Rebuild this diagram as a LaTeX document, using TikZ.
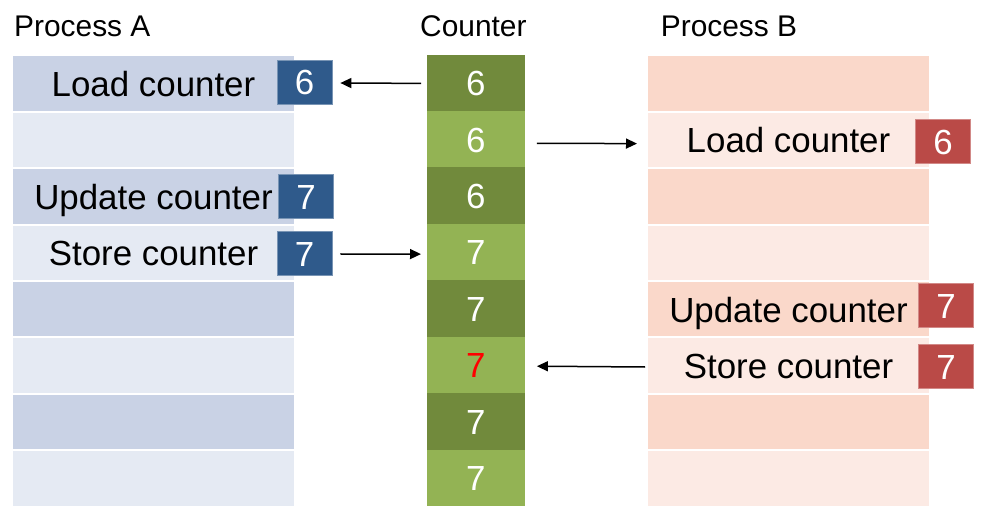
\documentclass[tikz,border=0pt]{standalone}
\usepackage{fontspec}
\setmainfont{Liberation Sans}
\usetikzlibrary{arrows.meta}
\definecolor{aDark}{HTML}{C9D2E5}
\definecolor{aLight}{HTML}{E5EAF3}
\definecolor{aBadge}{HTML}{2F5A8B}
\definecolor{bDark}{HTML}{FAD8CA}
\definecolor{bLight}{HTML}{FCEAE4}
\definecolor{bBadge}{HTML}{BA4A47}
\definecolor{cDark}{HTML}{718A3C}
\definecolor{cLight}{HTML}{93B354}
\begin{document}
\begin{tikzpicture}[x=1bp,y=-1bp,
  bigfont/.style={font=\fontsize{35}{40}\selectfont},
  titlefont/.style={font=\fontsize{30}{36}\selectfont, inner sep=0, anchor=base west},
  rowbox/.style={draw=white, line width=2bp, minimum width=283bp, minimum height=56.4bp,
    inner sep=0, anchor=north west, bigfont, text height=25.5bp, text depth=0bp},
  cbox/.style={draw=none, minimum width=98bp, minimum height=56.4bp, inner sep=0,
    anchor=north west, bigfont, text=white, text height=25.5bp, text depth=0bp},
  badge/.style={minimum width=55bp, minimum height=44bp, inner sep=0, bigfont, text=white,
    text height=26bp, text depth=0bp, line width=0.7bp},
  badgeA/.style={badge, fill=aBadge, draw=aBadge!65!white},
  badgeB/.style={badge, fill=bBadge, draw=bBadge!65!white},
  arr/.style={-{Triangle[length=11bp,width=10bp]}, line width=1.5bp, black}]
\useasboundingbox (0,0) rectangle (983,513);
% titles
\node[titlefont] (tA) at (14,36.7) {Process A};
\node[titlefont] (tC) at (420,36.7) {Counter};
\node[titlefont] (tB) at (660.7,36.7) {Process B};
% Process A rows
\node[rowbox, fill=aDark]  (a1) at (11,54.5+0*56.4) {Load counter};
\node[rowbox, fill=aLight] (a2) at (11,54.5+1*56.4) {};
\node[rowbox, fill=aDark]  (a3) at (11,54.5+2*56.4) {Update counter};
\node[rowbox, fill=aLight] (a4) at (11,54.5+3*56.4) {Store counter};
\node[rowbox, fill=aDark]  (a5) at (11,54.5+4*56.4) {};
\node[rowbox, fill=aLight] (a6) at (11,54.5+5*56.4) {};
\node[rowbox, fill=aDark]  (a7) at (11,54.5+6*56.4) {};
\node[rowbox, fill=aLight] (a8) at (11,54.5+7*56.4) {};
% Process B rows
\node[rowbox, fill=bDark]  (b1) at (646,54.5+0*56.4) {};
\node[rowbox, fill=bLight] (b2) at (646,54.5+1*56.4) {Load counter};
\node[rowbox, fill=bDark]  (b3) at (646,54.5+2*56.4) {};
\node[rowbox, fill=bLight] (b4) at (646,54.5+3*56.4) {};
\node[rowbox, fill=bDark]  (b5) at (646,54.5+4*56.4) {Update counter};
\node[rowbox, fill=bLight] (b6) at (646,54.5+5*56.4) {Store counter};
\node[rowbox, fill=bDark]  (b7) at (646,54.5+6*56.4) {};
\node[rowbox, fill=bLight] (b8) at (646,54.5+7*56.4) {};
% Counter column
\node[cbox, fill=cDark]  (c1) at (426.5,54.5+0*56.4) {6};
\node[cbox, fill=cLight] (c2) at (426.5,54.5+1*56.4) {6};
\node[cbox, fill=cDark]  (c3) at (426.5,54.5+2*56.4) {6};
\node[cbox, fill=cLight] (c4) at (426.5,54.5+3*56.4) {7};
\node[cbox, fill=cDark]  (c5) at (426.5,54.5+4*56.4) {7};
\node[cbox, fill=cLight, text=red] (c6) at (426.5,54.5+5*56.4) {7};
\node[cbox, fill=cDark]  (c7) at (426.5,54.5+6*56.4) {7};
\node[cbox, fill=cLight] (c8) at (426.5,54.5+7*56.4) {7};
% badges
\node[badgeA] (ab1) at (304.5,82) {6};
\node[badgeA] (ab3) at (306,196.5) {7};
\node[badgeA] (ab4) at (304.5,253.5) {7};
\node[badgeB] (bb2) at (943,141.8) {6};
\node[badgeB] (bb5) at (946,305.5) {7};
\node[badgeB] (bb6) at (946,366.5) {7};
% arrows
\draw[arr] ([xshift=-5.5bp,yshift=-0.5bp]c1.west) -- ([xshift=8bp,yshift=-1bp]ab1.east);
\draw[arr] ([xshift=12bp,yshift=-4bp]c2.east) -- ([xshift=-9bp,yshift=-3.5bp]b2.west);
\draw[arr] ([xshift=8bp,yshift=-0.5bp]ab4.east) -- ([xshift=-5.5bp,yshift=-2bp]c4.west);
\draw[arr] ([xshift=-1bp,yshift=-1.3bp]b6.west) -- ([xshift=12bp,yshift=-1.3bp]c6.east);
\end{tikzpicture}
\end{document}
